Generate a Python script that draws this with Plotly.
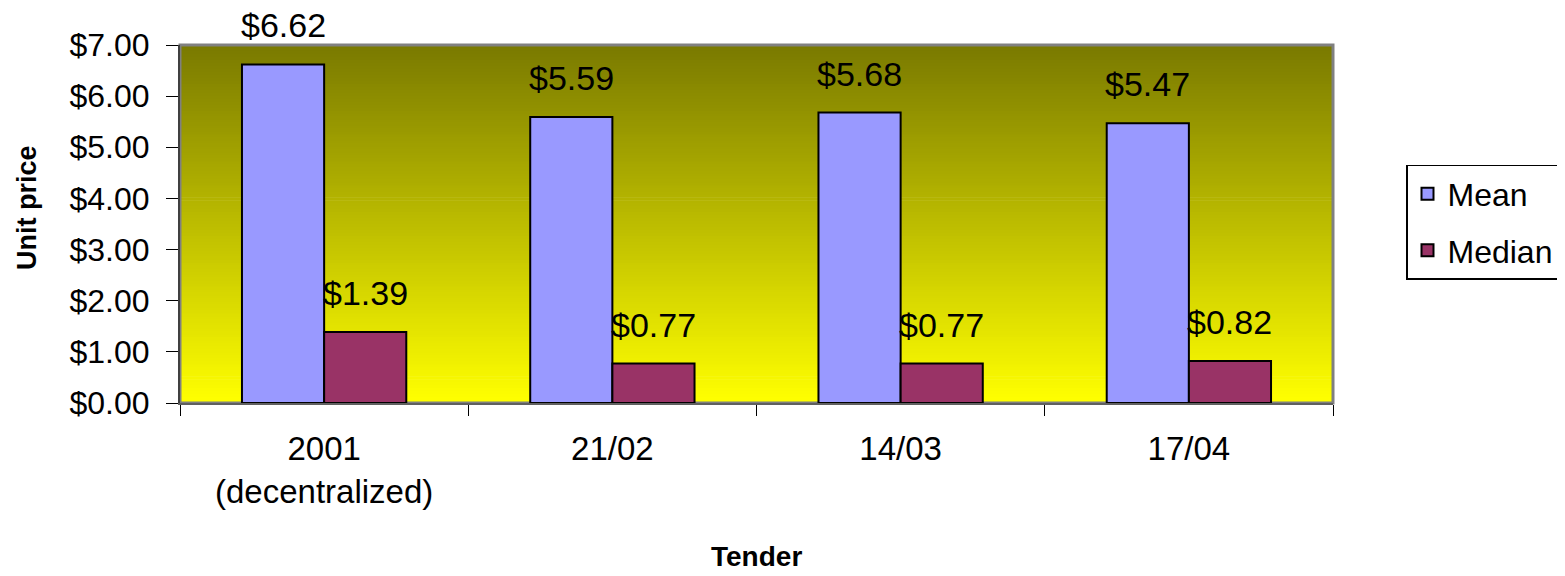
import plotly.graph_objects as go

categories = ["2001<br>(decentralized)", "21/02", "14/03", "17/04"]
mean_values = [6.62, 5.59, 5.68, 5.47]
median_values = [1.39, 0.77, 0.77, 0.82]
y_ticks = [0, 1, 2, 3, 4, 5, 6, 7]

FONT = "Liberation Sans, Arial, sans-serif"

# figure geometry (the page adds an 8px body margin, compensated here)
W, H = 1557, 568
ML, MR, MT, MB = 172, 232, 37, 173
BARGAP = 0.43
plot_w = W - ML - MR
bar_px = plot_w / len(categories) * (1 - BARGAP) / 2

fig = go.Figure()
fig.add_trace(go.Bar(
    name="Mean", x=categories, y=mean_values, legendgroup="a",
    marker=dict(color="#9999FF", line=dict(color="black", width=2)),
))
fig.add_trace(go.Bar(
    name="Median", x=categories, y=median_values, legendgroup="b",
    marker=dict(color="#993366", line=dict(color="black", width=2)),
))

annotations = []
for vals, sign in ((mean_values, -1), (median_values, 1)):
    for cat, v in zip(categories, vals):
        annotations.append(dict(
            x=cat, y=v, xref="x", yref="y", text="$%.2f" % v, showarrow=False,
            xanchor="center", yanchor="middle", xshift=sign * bar_px / 2, yshift=39,
            font=dict(size=34, family=FONT, color="black")))

annotations += [
    dict(text="<b>Unit price</b>", xref="paper", yref="paper", x=(19 - ML) / plot_w,
         y=0.545, xanchor="center", yanchor="middle", textangle=-90, showarrow=False,
         font=dict(size=27, family=FONT)),
    dict(text="<b>Tender</b>", xref="paper", yref="paper", x=0.5, y=-0.43,
         xanchor="center", yanchor="middle", showarrow=False,
         font=dict(size=28, family=FONT)),
]

# gradient background bands (olive at top -> yellow at bottom)
n = 120
top = (122, 122, 0)
bot = (255, 255, 0)
shapes = []
for i in range(n):
    t = i / (n - 1)
    c = tuple(int(round(top[k] + (bot[k] - top[k]) * t)) for k in range(3))
    y1 = 1 - i / n
    y0 = 1 - (i + 1) / n
    shapes.append(dict(type="rect", xref="paper", yref="paper", x0=0, x1=1,
                       y0=max(0, y0 - 0.002), y1=y1, fillcolor="rgb(%d,%d,%d)" % c,
                       line=dict(width=0), layer="below"))
shapes.append(dict(type="rect", xref="paper", yref="paper", x0=0, x1=1, y0=0, y1=1,
                   line=dict(color="#808080", width=3), fillcolor="rgba(0,0,0,0)",
                   layer="below"))

fig.update_layout(
    width=W, height=H,
    margin=dict(l=ML, r=MR, t=MT, b=MB, autoexpand=False),
    paper_bgcolor="white", plot_bgcolor="white",
    barmode="group", bargap=BARGAP, bargroupgap=0,
    font=dict(family=FONT, size=30, color="black"),
    shapes=shapes,
    showlegend=True,
    legend=dict(x=(1398 - ML) / plot_w, y=0.665, xanchor="left", yanchor="top",
                bgcolor="white", bordercolor="black", borderwidth=1.5,
                font=dict(size=32, family=FONT), tracegroupgap=12,
                entrywidth=125),
    annotations=annotations,
)
fig.update_xaxes(
    showgrid=False, showline=True, linecolor="#606060", linewidth=2,
    ticks="outside", tickson="boundaries", ticklen=11, tickcolor="black", tickwidth=1,
    tickfont=dict(size=33, family=FONT), ticklabelstandoff=15,
)
fig.update_yaxes(
    range=[0, 7], tickvals=y_ticks, tickformat="$.2f",
    showgrid=False, zeroline=False, showline=True, linecolor="#404040", linewidth=2,
    ticks="outside", ticklen=12, tickcolor="black", tickwidth=1,
    tickfont=dict(size=32, family=FONT), ticklabelstandoff=10,
)

fig.write_html("out.html")
